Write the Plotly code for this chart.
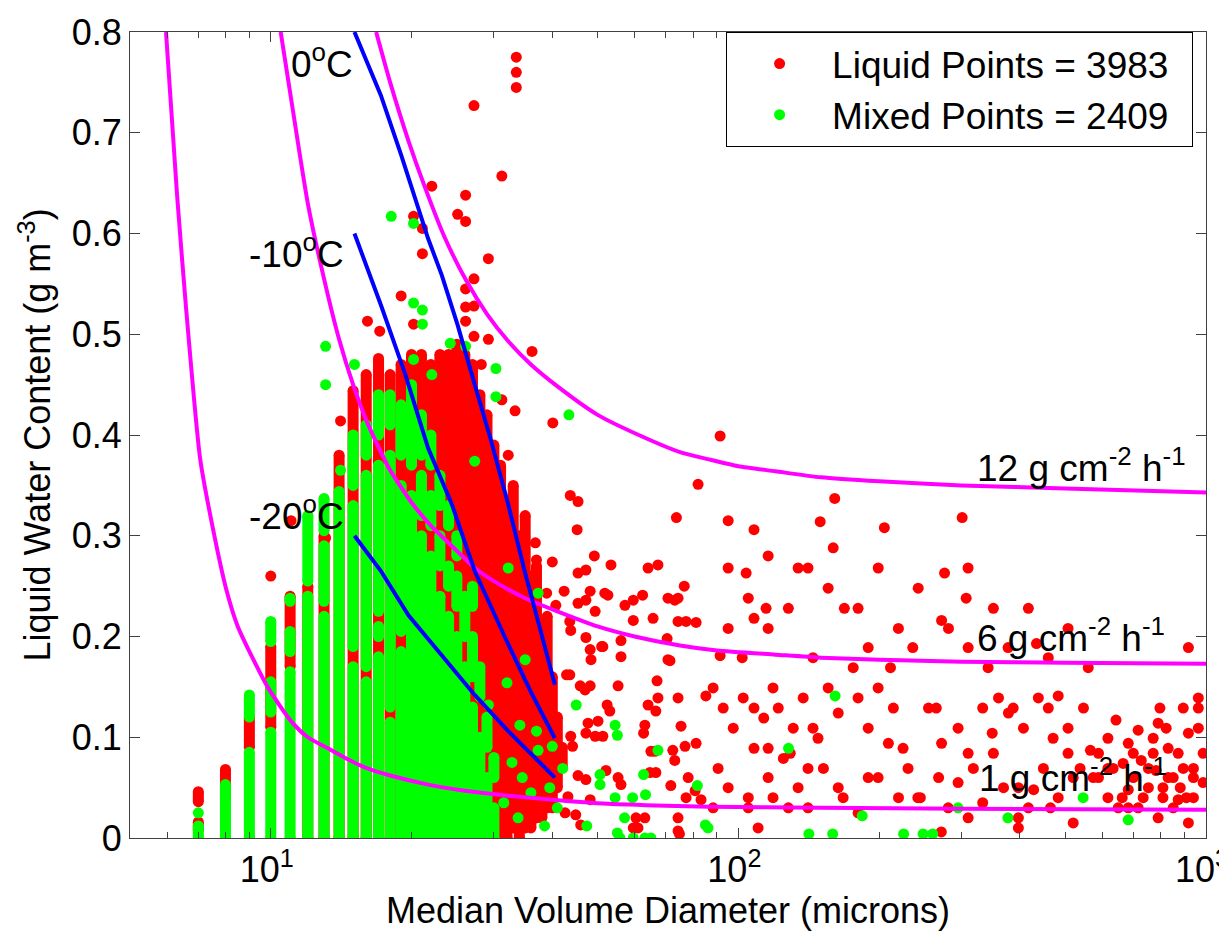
import math
import plotly.graph_objects as go

# ---------------- data ----------------
# Mixed-phase (green) column segments: MVD bin, lowest and highest LWC of stacked points
mixed_col_mvd = [7, 8, 9, 9, 10, 10, 10, 11, 11, 11, 12, 12, 13, 13, 13, 14,
                 15, 15, 15, 16, 16, 16, 17, 17, 17, 17, 18, 18, 18, 19, 19, 19, 20, 20,
                 21, 21, 21, 22, 22, 22, 23, 23, 23, 24, 24, 24, 25, 25, 25,
                 26, 26, 27, 27, 27, 28, 28, 29, 29, 30, 30]
mixed_col_lo = [0.0, 0.0, 0.0, 0.12, 0.0, 0.125, 0.195, 0.0, 0.185, 0.235, 0.0, 0.255, 0.0, 0.235, 0.305, 0.0,
                0.0, 0.19, 0.35, 0.0, 0.17, 0.38, 0.0, 0.20, 0.225, 0.40, 0.0, 0.13, 0.41, 0.0, 0.205, 0.38, 0.0, 0.37,
                0.0, 0.32, 0.38, 0.0, 0.31, 0.37, 0.0, 0.27, 0.33, 0.0, 0.25, 0.31, 0.0, 0.23, 0.28,
                0.0, 0.20, 0.0, 0.16, 0.23, 0.0, 0.14, 0.0, 0.09, 0.0, 0.06]
mixed_col_hi = [0.012, 0.053, 0.085, 0.142, 0.105, 0.155, 0.215, 0.165, 0.205, 0.238, 0.24, 0.32, 0.22, 0.29, 0.337, 0.344,
                0.17, 0.33, 0.40, 0.155, 0.36, 0.41, 0.18, 0.21, 0.37, 0.44, 0.115, 0.38, 0.44, 0.185, 0.35, 0.43, 0.34, 0.45,
                0.30, 0.36, 0.42, 0.28, 0.34, 0.40, 0.24, 0.30, 0.36, 0.22, 0.27, 0.33, 0.20, 0.26, 0.30,
                0.17, 0.24, 0.13, 0.20, 0.25, 0.10, 0.17, 0.06, 0.12, 0.03, 0.08]

# Liquid (red) column segments: MVD bin, lowest and highest LWC of stacked points
liquid_col_mvd = [7, 7, 8, 9, 10, 11, 12, 13, 14, 15, 16, 17, 18, 19, 20, 21, 22, 23, 24, 25, 26, 27,
                  28, 29, 30, 31, 32, 33, 34, 35, 36, 37, 38, 39, 40, 41, 42]
liquid_col_lo = [0.036, 0.008, 0.04, 0.09, 0.11, 0.17, 0.0, 0.0, 0.0, 0.0, 0.0, 0.0, 0.0, 0.0, 0.0, 0.0, 0.0, 0.0, 0.0, 0.0, 0.0, 0.0,
                 0.0, 0.0, 0.0, 0.0, 0.0, 0.01, 0.0, 0.01, 0.01, 0.02, 0.02, 0.03, 0.03, 0.05, 0.07]
liquid_col_hi = [0.046, 0.016, 0.068, 0.12, 0.19, 0.24, 0.25, 0.30, 0.38, 0.444, 0.46, 0.476, 0.46, 0.47, 0.48, 0.48, 0.47, 0.48, 0.48, 0.49, 0.48, 0.47,
                 0.44, 0.42, 0.39, 0.37, 0.33, 0.35, 0.30, 0.32, 0.26, 0.27, 0.21, 0.22, 0.16, 0.12, 0.09]

# Isolated liquid points
liquid_mvd = [10.0, 11.05, 13.1, 14.1, 16.1, 17.1, 19.0, 20.2, 21.1, 21.1, 20.2, 22.1, 25.1, 26.1, 26.1, 26.1, 27.2, 26.1, 27.2, 26.1,
              27.2, 29.2, 29.2, 31.2, 27.2, 33.5, 33.5, 33.5, 36.2, 23.2, 28.2, 22.1, 31.2, 33.3, 40.1,
              32.2, 43.7, 45.4, 45.2, 36.8, 37.0, 40.0, 49.2, 53.4, 45.4, 47.2, 64.1, 67.3, 82.0, 73.7, 76.6,
              38.9, 42.4, 45.4, 47.2, 48.2, 51.8, 52.6, 57.2, 59.6, 62.4, 49.4, 40.7, 43.6, 43.8, 47.2, 51.3, 56.1,
              59.6, 65.7, 70.7, 73.1, 74.3, 74.3, 77.3, 81.2, 70.4, 48.2, 48.4, 51.0, 56.1, 70.7, 71.4, 42.9, 43.6,
              45.9, 47.0, 48.2, 55.3, 67.0, 52.4, 53.1, 64.1, 67.3, 66.6, 74.3, 85.2, 47.7, 50.1, 47.2, 49.4, 51.3,
              43.8, 44.2, 63.1, 62.7, 75.4, 65.0, 66.3, 73.1, 72.4, 76.9, 81.2, 64.7, 66.6, 78.1, 71.7, 52.1, 55.3,
              56.1, 45.4, 47.2, 43.2, 42.6, 48.2, 44.9, 46.0, 60.4, 63.1, 61.0, 74.3, 74.3, 77.3, 80.8, 83.2, 59.6, 74.8,
              91.4, 95.1, 108, 115.8, 103.9, 114.6, 108, 95.1, 91.4, 101.9, 134.2, 149.6, 160.7, 155.6, 168.5, 205.2,
              189.5, 211.5, 180.3, 163.5, 144.4, 121.7, 108, 115.8, 129.1, 140.9, 105, 118.6, 140.9, 163.5, 189.5,
              209.3, 230.6, 245, 301, 276, 272, 307, 310, 265, 310, 349, 378, 295, 333, 397, 434, 460, 507, 483,
              538, 566, 617, 428, 589, 465, 520, 917, 963, 894, 797, 716, 830, 940, 753, 682, 872, 649, 986, 790,
              917, 633, 699, 771, 851, 682, 734, 809, 894, 940, 617, 963, 271.6, 397,
              642, 682, 727, 782, 830, 872, 917, 963, 753, 809, 851, 908, 699, 662, 617, 589, 940, 881, 771, 822, 665, 986, 716, 790,
              387, 407, 438, 471, 507, 547, 574, 483, 417, 449, 397, 520,
              236, 255, 272, 295, 318, 333, 351, 369, 242, 281, 310, 268, 342, 360,
              144.4, 155.6, 176, 189.5, 199, 214.5, 225, 152, 167.5, 180.3, 199, 220, 148,
              88.3, 92.8, 97.5, 102.4, 108, 113.3, 118.6, 124.8, 131, 137.6, 90.5, 95.1, 105, 115.8, 127.9, 134.2, 88.3, 110.2,
              95.1, 105, 115.8, 127.9, 140.9, 159.5, 180.3, 199.1, 219.9, 242.4, 281.4, 309.9, 351, 377.4, 417, 460, 507, 560]
liquid_lwc = [0.26, 0.315, 0.298, 0.414, 0.513, 0.503, 0.538, 0.617, 0.605, 0.58, 0.51, 0.647, 0.619, 0.638, 0.612, 0.545, 0.555, 0.527, 0.528, 0.513,
              0.498, 0.575, 0.495, 0.657, 0.727, 0.775, 0.76, 0.745, 0.483, 0.478, 0.47, 0.455, 0.435, 0.424, 0.412,
              0.38, 0.34, 0.334, 0.306, 0.293, 0.276, 0.274, 0.28, 0.271, 0.263, 0.266, 0.268, 0.271, 0.351, 0.318, 0.25,
              0.243, 0.245, 0.233, 0.236, 0.245, 0.243, 0.241, 0.231, 0.236, 0.241, 0.225, 0.231, 0.215, 0.206, 0.199, 0.19, 0.196,
              0.216, 0.218, 0.238, 0.236, 0.238, 0.215, 0.215, 0.214, 0.198, 0.187, 0.177, 0.19, 0.18, 0.177, 0.176, 0.162, 0.162,
              0.151, 0.147, 0.151, 0.151, 0.156, 0.132, 0.126, 0.132, 0.139, 0.126, 0.139, 0.141, 0.114, 0.116, 0.104, 0.101, 0.101,
              0.101, 0.091, 0.112, 0.104, 0.111, 0.086, 0.086, 0.077, 0.087, 0.091, 0.094, 0.065, 0.065, 0.06, 0.052, 0.067, 0.06,
              0.053, 0.062, 0.058, 0.041, 0.025, 0.038, 0.023, 0.013, 0.02, 0.02, 0.01, 0.02, 0.007, 0.04, 0.047, 0.038, 0.01, 0.004,
              0.399, 0.315, 0.306, 0.28, 0.263, 0.228, 0.218, 0.208, 0.181, 0.179, 0.268, 0.314, 0.337, 0.248, 0.228, 0.308,
              0.189, 0.169, 0.139, 0.124, 0.109, 0.129, 0.129, 0.089, 0.084, 0.069, 0.04, 0.04, 0.03, 0.05, 0.06,
              0.094, 0.069, 0.04, 0.318, 0.263, 0.216, 0.238, 0.189, 0.129, 0.084, 0.104, 0.124, 0.055, 0.035, 0.02, 0.193, 0.129, 0.109, 0.141,
              0.069, 0.087, 0.099, 0.048, 0.06, 0.03, 0.015, 0.189, 0.139, 0.129, 0.129, 0.107, 0.089, 0.069, 0.069, 0.048, 0.038, 0.03, 0.084, 0.02,
              0.015, 0.069, 0.084, 0.099, 0.06, 0.03, 0.04, 0.05, 0.069, 0.04, 0.04, 0.109, 0.006, 0.01,
              0.117, 0.094, 0.077, 0.067, 0.06, 0.084, 0.104, 0.129, 0.05, 0.04, 0.03, 0.04, 0.06, 0.04, 0.069, 0.084, 0.06, 0.05, 0.084, 0.109, 0.074, 0.055, 0.03, 0.114,
              0.129, 0.109, 0.139, 0.099, 0.084, 0.129, 0.06, 0.04, 0.03, 0.069, 0.05, 0.06,
              0.189, 0.129, 0.094, 0.109, 0.069, 0.129, 0.084, 0.05, 0.04, 0.03, 0.02, 0.06, 0.169, 0.139,
              0.179, 0.149, 0.169, 0.109, 0.149, 0.129, 0.089, 0.069, 0.04, 0.025, 0.06, 0.04, 0.099,
              0.149, 0.129, 0.109, 0.139, 0.089, 0.119, 0.149, 0.079, 0.109, 0.139, 0.069, 0.05, 0.03, 0.06, 0.03, 0.05, 0.03, 0.01,
              0.268, 0.238, 0.208, 0.228, 0.268, 0.288, 0.228, 0.268, 0.208, 0.248, 0.208, 0.268, 0.228, 0.189, 0.228, 0.179, 0.208, 0.169]

# Isolated mixed points
mixed_mvd = [7, 13.1, 13.1, 14.1, 15.1, 18.1, 20.2, 20.2, 21.1, 21.1, 24.2, 26.1, 20.2, 30.3, 22.1, 30.3, 43.4, 27.3,
             37.3, 32.2, 35.0, 32.0, 29.2, 34.1, 37.0, 40.0, 42.1, 37.3, 45.0, 54.5, 55.1, 67.3, 50.6, 50.6, 62.7, 63.3,
             54.5, 59.4, 57.1, 47.4, 55.1, 81.7, 85.0, 55.8, 59.6, 63.1, 65.0, 86.1, 141.5, 159.1, 225.6, 248.3, 260.3,
             161, 128, 377, 184, 546, 295, 682, 31.5, 33.8, 36.0, 38.5, 41.0, 34.5, 39.5, 32.8]
mixed_lwc = [0.025, 0.488, 0.45, 0.365, 0.47, 0.617, 0.61, 0.531, 0.524, 0.51, 0.491, 0.488, 0.475, 0.466, 0.46, 0.438, 0.42, 0.374,
             0.243, 0.268, 0.177, 0.154, 0.132, 0.112, 0.106, 0.091, 0.069, 0.087, 0.132, 0.112, 0.102, 0.087, 0.063, 0.053, 0.063, 0.043,
             0.04, 0.04, 0.02, 0.012, 0.005, 0.052, 0.013, 0.0, 0.0, 0.0, 0.0, 0.01, 0.004, 0.004, 0.004, 0.004, 0.004,
             0.141, 0.089, 0.02, 0.022, 0.04, 0.03, 0.018, 0.035, 0.02, 0.045, 0.012, 0.03, 0.06, 0.05, 0.075]

# Icing-rate curves (magenta)
rate_1_mvd = [5.97, 6.3, 6.59, 7.06, 7.5, 8.02, 8.5, 9.07, 9.87, 11.05, 12.0, 13.25, 14.5, 16.1, 18.0, 21.7, 26.0, 32.2,
              40.0, 52.6, 70.0, 86.1, 150, 300, 1000]
rate_1_lwc = [0.8, 0.64, 0.526, 0.377, 0.31, 0.248, 0.21, 0.182, 0.149, 0.116, 0.10, 0.089, 0.079, 0.069, 0.062, 0.053, 0.047, 0.042,
              0.038, 0.034, 0.032, 0.031, 0.030, 0.029, 0.028]
rate_6_mvd = [10.5, 11.0, 12.0, 13.0, 14.0, 15.0, 16.0, 17.0, 18.0, 20.0, 22.0, 25.0, 27.3, 30.0, 35.0, 41.0, 50.0, 60.0,
              75.0, 90.0, 120, 150, 200, 300, 500, 1000]
rate_6_lwc = [0.8, 0.74, 0.63, 0.555, 0.495, 0.45, 0.415, 0.388, 0.365, 0.333, 0.31, 0.285, 0.268, 0.255, 0.238, 0.225, 0.21, 0.20,
              0.191, 0.186, 0.182, 0.179, 0.177, 0.175, 0.174, 0.173]
rate_12_mvd = [16.8, 18.0, 19.7, 21.4, 23.5, 26.2, 29.0, 32.2, 36.0, 41.1, 50.0, 61.9, 75.0, 86.1, 100, 120, 150, 200, 300, 500, 1000]
rate_12_lwc = [0.8, 0.75, 0.692, 0.645, 0.597, 0.553, 0.52, 0.493, 0.47, 0.448, 0.42, 0.399, 0.383, 0.376, 0.369, 0.364, 0.358, 0.354,
               0.35, 0.347, 0.343]

# Temperature lines (blue)
t0_mvd = [15.1, 17.2, 19.0, 21.7, 23.2, 25.1, 27.3, 29.4, 32.2, 34.9, 37.8, 40.5]
t0_lwc = [0.8, 0.737, 0.678, 0.595, 0.559, 0.509, 0.45, 0.399, 0.331, 0.265, 0.205, 0.152]
t10_mvd = [15.1, 17.2, 19.4, 21.7, 24.4, 27.3, 31.7, 35.9, 40.5]
t10_lwc = [0.60, 0.529, 0.46, 0.387, 0.331, 0.265, 0.199, 0.146, 0.099]
t20_mvd = [15.1, 17.2, 19.7, 23.2, 27.3, 32.2, 40.5]
t20_lwc = [0.30, 0.265, 0.221, 0.182, 0.142, 0.106, 0.06]

liquid_count = 3983
mixed_count = 2409

x_tick_vals = [10, 100, 1000]
x_tick_text = ["10<sup>1</sup>", "10<sup>2</sup>", "10<sup>3</sup>"]
x_minor_vals = [6, 7, 8, 9, 20, 30, 40, 50, 60, 70, 80, 90, 200, 300, 400, 500, 600, 700, 800, 900]

# ---------------- figure ----------------
RED = "#FF0000"
GREEN = "#00FF00"
MAG = "#FF00FF"
BLUE = "#0000FF"
FONT = "Arial, Liberation Sans, sans-serif"
MS = 11


def segments(mvd, lo, hi):
    xs, ys = [], []
    for m, a, b in zip(mvd, lo, hi):
        xs += [m, m, None]
        ys += [a, b, None]
    return xs, ys


fig = go.Figure()

lx, ly = segments(liquid_col_mvd, liquid_col_lo, liquid_col_hi)
fig.add_trace(go.Scatter(x=lx, y=ly, mode="lines+markers", line=dict(color=RED, width=MS),
                         marker=dict(color=RED, size=MS), showlegend=False, hoverinfo="skip"))
fig.add_trace(go.Scatter(x=liquid_mvd, y=liquid_lwc, mode="markers",
                         marker=dict(color=RED, size=MS),
                         name=f"Liquid Points = {liquid_count}\u2002"))

mx, my = segments(mixed_col_mvd, mixed_col_lo, mixed_col_hi)
fig.add_trace(go.Scatter(x=mx, y=my, mode="lines+markers", line=dict(color=GREEN, width=MS),
                         marker=dict(color=GREEN, size=MS), showlegend=False, hoverinfo="skip"))
fig.add_trace(go.Scatter(x=mixed_mvd, y=mixed_lwc, mode="markers",
                         marker=dict(color=GREEN, size=MS),
                         name=f"Mixed Points = {mixed_count}\u2002"))

for xs, ys in [(rate_1_mvd, rate_1_lwc), (rate_6_mvd, rate_6_lwc), (rate_12_mvd, rate_12_lwc)]:
    fig.add_trace(go.Scatter(x=xs, y=ys, mode="lines", line=dict(color=MAG, width=4, shape="spline", smoothing=0.6),
                             showlegend=False, hoverinfo="skip"))

for xs, ys in [(t0_mvd, t0_lwc), (t10_mvd, t10_lwc), (t20_mvd, t20_lwc)]:
    fig.add_trace(go.Scatter(x=xs, y=ys, mode="lines", line=dict(color=BLUE, width=4),
                             showlegend=False, hoverinfo="skip"))

labels = [
    ("0<sup>o</sup>C", 11.0, 0.771),
    ("-10<sup>o</sup>C", 8.95, 0.582),
    ("-20<sup>o</sup>C", 8.95, 0.322),
    ("12 g cm<sup>-2</sup> h<sup>-1</sup>", 322.0, 0.370),
    ("6 g cm<sup>-2</sup> h<sup>-1</sup>", 322.0, 0.201),
    ("1 g cm<sup>-2</sup> h<sup>-1</sup>", 326.0, 0.062),
]
for text, xv, yv in labels:
    fig.add_annotation(x=math.log10(xv), y=yv, xref="x", yref="y", text=text, showarrow=False,
                       xanchor="left", yanchor="middle", borderpad=0,
                       font=dict(family=FONT, size=37, color="black"))

axis_common = dict(showline=True, linecolor="#404040", linewidth=1, mirror="ticks", ticks="inside",
                   tickcolor="#404040", showgrid=False, zeroline=False, automargin=False,
                   tickfont=dict(family=FONT, size=36, color="black"))

fig.update_xaxes(type="log", range=[math.log10(5), 3], tickvals=x_tick_vals, ticktext=x_tick_text,
                 ticklen=10, ticklabelshift=-4,
                 minor=dict(tickvals=x_minor_vals, ticks="inside", ticklen=6, tickcolor="#404040"),
                 title=dict(text="Median Volume Diameter (microns)", font=dict(family=FONT, size=36, color="black"),
                            standoff=4),
                 **axis_common)
fig.update_yaxes(range=[0, 0.8], dtick=0.1, tick0=0, ticklen=10,
                 title=dict(text="Liquid Water Content (g m<sup>-3</sup>)", font=dict(family=FONT, size=36, color="black"),
                            standoff=10),
                 **axis_common)

fig.update_layout(
    width=1227, height=936,
    margin=dict(l=122, r=29, t=24, b=106),
    paper_bgcolor="white", plot_bgcolor="white",
    font=dict(family=FONT, size=36, color="black"),
    legend=dict(x=0.988, y=1.0, xanchor="right", yanchor="top", bgcolor="white",
                bordercolor="black", borderwidth=1, itemwidth=95,
                font=dict(family=FONT, size=37, color="black")),
)

fig.write_html("out.html")
